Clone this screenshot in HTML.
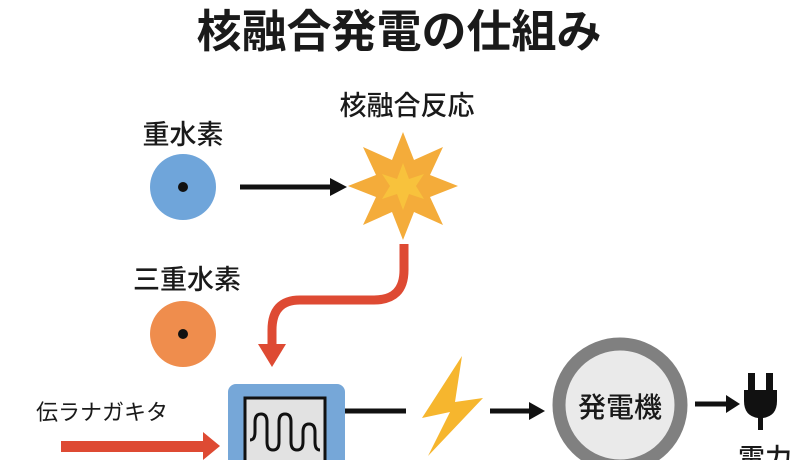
<!DOCTYPE html>
<html><head><meta charset="utf-8"><style>
html,body{margin:0;padding:0;background:#fff;width:800px;height:460px;overflow:hidden}
svg text{font-family:"Liberation Sans","Noto Sans CJK JP",sans-serif;fill:#1a1a1a}
</style></head><body>
<svg width="800" height="460" viewBox="0 0 800 460" xmlns="http://www.w3.org/2000/svg">
<text x="399" y="47" font-size="45" font-weight="bold" text-anchor="middle">核融合発電の仕組み</text>
<text x="183" y="144" font-size="27" font-weight="500" text-anchor="middle">重水素</text>
<circle cx="183" cy="187" r="33" fill="#6fa5da"/>
<circle cx="183" cy="187" r="5" fill="#111"/>
<line x1="240" y1="187" x2="332" y2="187" stroke="#111" stroke-width="5"/>
<polygon points="347,187 330,178 330,196" fill="#111"/>
<text x="407" y="115" font-size="27" font-weight="500" text-anchor="middle">核融合反応</text>
<polygon fill="#f4ac3a" points="403,132 414,160 443,147 430,175 458,186 430,197 443,225 414,212 403,240 392,212 363,225 376,197 348,186 376,175 363,147 392,160"/>
<polygon fill="#f8c23c" points="403,163 409,179 424,174 416,186 424,199 409,194 403,210 397,194 382,199 390,186 382,174 397,179"/>
<path d="M404,244 V270 Q404,300 374,300 H300 Q272,300 272,330 V345" fill="none" stroke="#de4a33" stroke-width="9"/>
<polygon points="258,344 286,344 272,367" fill="#de4a33"/>
<text x="187" y="289" font-size="27" font-weight="500" text-anchor="middle">三重水素</text>
<circle cx="183" cy="334" r="33" fill="#ef8d4d"/>
<circle cx="183" cy="334" r="5" fill="#111"/>
<text x="36" y="420" font-size="22">伝ラナガキタ</text>
<rect x="61" y="441" width="145" height="11" fill="#de4a33"/>
<polygon points="203,432 220,446 203,460" fill="#de4a33"/>
<rect x="228" y="384" width="117" height="90" rx="8" fill="#76a7d8"/>
<rect x="245" y="398" width="80" height="80" fill="#e2e2e2" stroke="#111" stroke-width="3"/>
<path d="M250,440 q5,0 5,-8 v-10 q0,-8 6,-8 q6,0 6,8 v20 q0,8 6,8 q6,0 6,-8 v-20 q0,-8 6,-8 q6,0 6,8 v20 q0,8 6,8 q6,0 6,-8 v-10 q0,-8 6,-8 q6,0 6,8 v10 q0,8 5,8" fill="none" stroke="#111" stroke-width="3"/>
<line x1="345" y1="411" x2="406" y2="411" stroke="#111" stroke-width="5"/>
<polygon fill="#f6b62e" points="462,356 422,418 450,412 428,456 483,398 455,402" />
<line x1="490" y1="411" x2="530" y2="411" stroke="#111" stroke-width="5"/>
<polygon points="545,411 529,402 529,420" fill="#111"/>
<circle cx="620" cy="405" r="61" fill="#eaeaea" stroke="#808080" stroke-width="13"/>
<text x="620" y="417" font-size="28" font-weight="500" text-anchor="middle">発電機</text>
<line x1="695" y1="404" x2="728" y2="404" stroke="#111" stroke-width="5"/>
<polygon points="740,404 726,395 726,413" fill="#111"/>
<rect x="748" y="373" width="7" height="19" fill="#111"/>
<rect x="766" y="373" width="7" height="19" fill="#111"/>
<path d="M744,390 H777 V401 Q777,416 763,418 V430 H758 V418 Q744,416 744,401 Z" fill="#111"/>
<text x="738" y="468" font-size="27" font-weight="500">電力</text>
</svg>
</body></html>
